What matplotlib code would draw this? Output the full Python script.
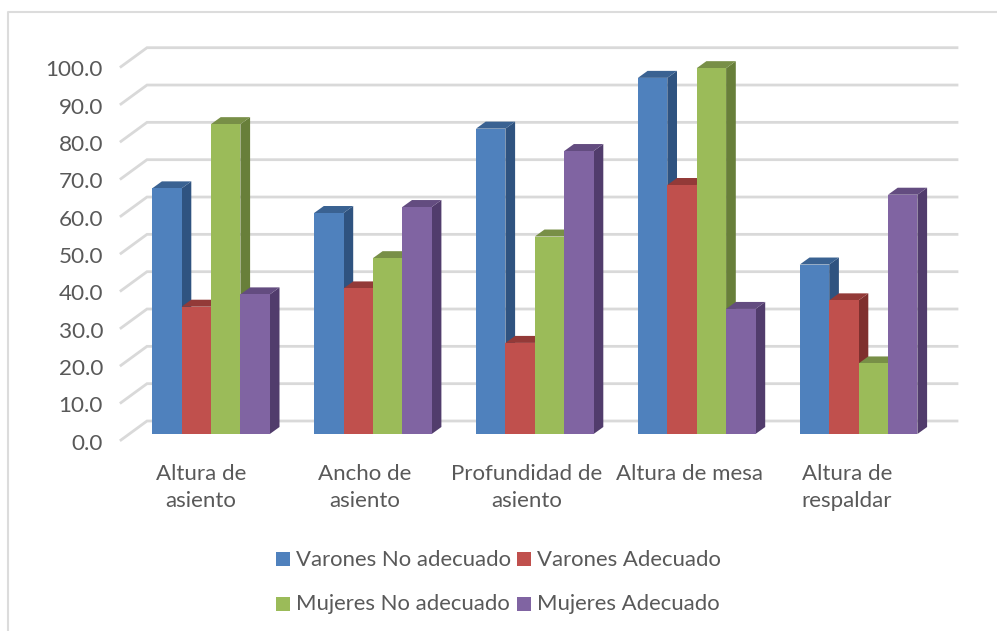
import matplotlib
matplotlib.use("Agg")
import matplotlib.pyplot as plt
from matplotlib.lines import Line2D
from matplotlib.patches import Polygon, Rectangle

plt.rcParams["font.family"] = ["Lato", "DejaVu Sans"]

categories = ["Altura de\nasiento", "Ancho de\nasiento", "Profundidad de\nasiento",
              "Altura de mesa", "Altura de\nrespaldar"]
series_names = ["Varones No adecuado", "Varones Adecuado", "Mujeres No adecuado", "Mujeres Adecuado"]
varones_no = [65.8, 59.2, 81.8, 95.4, 45.4]
varones_si = [34.1, 39.0, 24.4, 66.7, 35.8]
mujeres_no = [83.0, 47.1, 52.9, 98.0, 18.9]
mujeres_si = [37.4, 60.8, 75.8, 33.5, 64.1]
y_ticks = [0, 10, 20, 30, 40, 50, 60, 70, 80, 90, 100]

face_colors = ["#4F81BD", "#C0504D", "#9BBB59", "#8064A2"]
side_colors = ["#2F5380", "#7F302E", "#687F3A", "#513C6C"]
top_colors = ["#3A6292", "#933A38", "#788F47", "#634C80"]
text_color = "#595959"
grid_color = "#D9D9D9"

W, H = 997, 631
PX_PER_CAT = 161.9
PX_PER_UNIT = 3.733
X_ORIGIN = 211
BAR_W = 29.4 / PX_PER_CAT
# bar depth, and offset of the wall and of the axis edge from the bar base plane
DX, DY = 9.7 / PX_PER_CAT, 7 / PX_PER_UNIT
WALL_X0, WALL_X1 = (147 - X_ORIGIN) / PX_PER_CAT, (957 - X_ORIGIN) / PX_PER_CAT
FLOOR_X = (121 - X_ORIGIN) / PX_PER_CAT
WALL_DY = 13 / PX_PER_UNIT
FRONT_DY = 6 / PX_PER_UNIT
LABEL_PX = [201, 365, 527, 689, 847]

fig = plt.figure(figsize=(W / 100, H / 100), dpi=100)
ax = fig.add_axes([0, 0, 1, 1])
ax.set_xlim(-X_ORIGIN / PX_PER_CAT, (W - X_ORIGIN) / PX_PER_CAT)
ax.set_ylim((434 - H) / PX_PER_UNIT, 434 / PX_PER_UNIT)
ax.axis("off")

# outer chart frame, open on the right and at the bottom
fig.add_artist(Line2D([8 / W, 8 / W, 1], [0, 1 - 12 / H, 1 - 12 / H], color="#DCDCDC", lw=1.5))

for v in y_ticks:
    ax.plot([FLOOR_X, WALL_X0, WALL_X1], [v - FRONT_DY, v + WALL_DY, v + WALL_DY],
            color=grid_color, lw=2, zorder=1, solid_joinstyle="miter")
    ax.text((103 - X_ORIGIN) / PX_PER_CAT, v - FRONT_DY - 1.0, f"{v:.1f}", ha="right", va="center",
            fontsize=16.2, color=text_color)

all_series = [varones_no, varones_si, mujeres_no, mujeres_si]
for j, values in enumerate(all_series):
    for i, v in enumerate(values):
        x0 = i + (j - 2) * BAR_W
        x1 = x0 + BAR_W
        z = 2 + j + i * 10
        ax.add_patch(Polygon([(x1, 0), (x1 + DX, DY), (x1 + DX, v + DY), (x1, v)],
                             facecolor=side_colors[j], edgecolor="none", zorder=z))
        ax.add_patch(Polygon([(x0, v), (x0 + DX, v + DY), (x1 + DX, v + DY), (x1, v)],
                             facecolor=top_colors[j], edgecolor="none", zorder=z))
        ax.bar(x0, v, width=BAR_W, align="edge", color=face_colors[j], zorder=z + 0.5)

for px, label in zip(LABEL_PX, categories):
    ax.text((px - X_ORIGIN) / PX_PER_CAT, -(464 - 434) / PX_PER_UNIT, label, ha="center", va="top",
            fontsize=16, color=text_color, linespacing=1.44)

# legend, two rows of two entries
legend_x = [276, 517]
legend_y = [559, 604]
for j, name in enumerate(series_names):
    px = legend_x[j % 2]
    py = legend_y[j // 2]
    fig.add_artist(Rectangle((px / W, 1 - (py + 7) / H), 14 / W, 14 / H, facecolor=face_colors[j],
                             edgecolor="none", transform=fig.transFigure))
    fig.text((px + 20) / W, 1 - (py + 0.5) / H, name, ha="left", va="center", fontsize=15.9, color=text_color)

fig.savefig("out.png", dpi=100)
plt.close(fig)
